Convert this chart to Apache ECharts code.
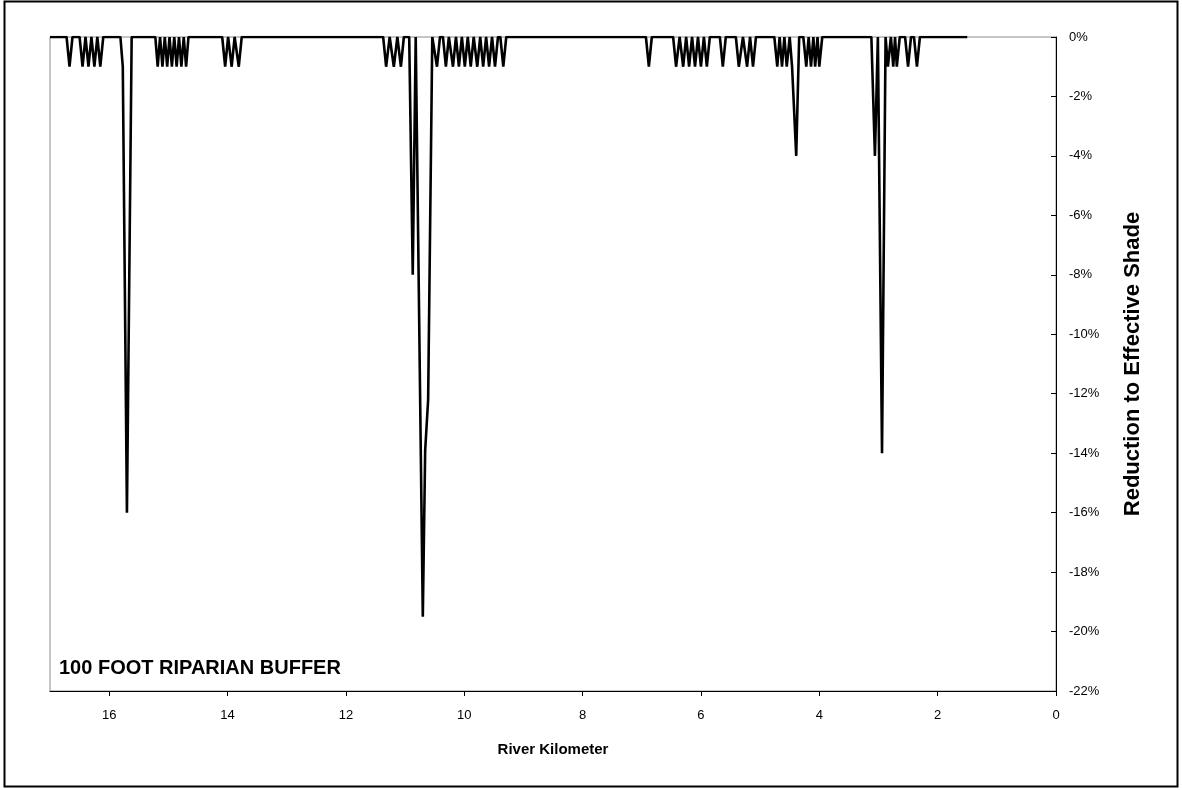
<!DOCTYPE html>
<html>
<head>
<meta charset="utf-8">
<script src="https://cdn.jsdelivr.net/npm/echarts@6/dist/echarts.min.js"></script>
<style>
  html, body { margin: 0; padding: 0; background: #ffffff; }
  #chart { width: 1182px; height: 790px; }
</style>
</head>
<body>
<div id="chart"></div>
<script>
// ---- Data ----
const chartTitle = '100 FOOT RIPARIAN BUFFER';
const xAxisName = 'River Kilometer';
const yAxisName = 'Reduction to Effective Shade';
const xTickValues = [0, 2, 4, 6, 8, 10, 12, 14, 16];
const yTickValues = [0, -2, -4, -6, -8, -10, -12, -14, -16, -18, -20, -22];

// River kilometer of each vertex of the line (upstream -> downstream)
const riverKm = [
  17.00,
  16.72, 16.67, 16.62,
  16.50, 16.45, 16.40, 16.35, 16.30, 16.25, 16.20, 16.15, 16.10,
  15.81, 15.77, 15.70, 15.62,
  15.22, 15.18, 15.14, 15.10, 15.06, 15.02, 14.98, 14.94, 14.90, 14.86, 14.82, 14.78, 14.74, 14.70, 14.66,
  14.09, 14.04, 13.99, 13.93, 13.88, 13.81, 13.76,
  11.37, 11.32, 11.26, 11.19, 11.13, 11.07, 11.02,
  10.93, 10.87, 10.82, 10.70, 10.66, 10.61, 10.54,
  10.51, 10.46, 10.41, 10.36, 10.31, 10.26, 10.24, 10.19, 10.14, 10.09, 10.04, 9.99, 9.94, 9.89, 9.84, 9.78, 9.73, 9.68, 9.63, 9.58, 9.53, 9.48, 9.43,
  9.39, 9.34, 9.29,
  6.93, 6.88, 6.83,
  6.47, 6.42, 6.36, 6.30, 6.25, 6.20, 6.15, 6.10, 6.05, 6.00, 5.95, 5.90, 5.85,
  5.68, 5.63, 5.58,
  5.41, 5.36, 5.29, 5.22, 5.17, 5.12, 5.07,
  4.76, 4.71, 4.67, 4.63, 4.59, 4.55, 4.50, 4.46, 4.39, 4.34,
  4.27, 4.22, 4.18, 4.14, 4.10, 4.07, 4.03, 4.00, 3.95,
  3.12, 3.06, 3.01, 2.94, 2.88,
  2.84, 2.79, 2.75, 2.72, 2.69, 2.64,
  2.55, 2.50, 2.45, 2.40, 2.35, 2.30,
  1.50
];
// Reduction to effective shade (%) at each vertex
const shadeReduction = [
  0,
  0, -1, 0,
  0, -1, 0, -1, 0, -1, 0, -1, 0,
  0, -1, -16, 0,
  0, -1, 0, -1, 0, -1, 0, -1, 0, -1, 0, -1, 0, -1, 0,
  0, -1, 0, -1, 0, -1, 0,
  0, -1, 0, -1, 0, -1, 0,
  0, -8, 0, -19.5, -13.9, -12.2, 0,
  0, -1, 0, 0, -1, 0, 0, -1, 0, -1, 0, -1, 0, -1, 0, -1, 0, -1, 0, -1, 0, -1, 0,
  0, -1, 0,
  0, -1, 0,
  0, -1, 0, -1, 0, -1, 0, -1, 0, -1, 0, -1, 0,
  0, -1, 0,
  0, -1, 0, -1, 0, -1, 0,
  0, -1, 0, -1, 0, -1, 0, -1, -4, 0,
  0, -1, 0, -1, 0, -1, 0, -1, 0,
  0, -4, 0, -14, 0,
  -1, 0, -1, 0, -1, 0,
  0, -1, 0, 0, -1, 0,
  0
];

const FONT = '"Liberation Sans", Arial, sans-serif';
const chart = echarts.init(document.getElementById('chart'), null, { renderer: 'canvas' });

const option = {
  animation: false,
  backgroundColor: '#ffffff',
  title: {
    text: chartTitle,
    left: 59,
    top: 658,
    padding: 0,
    textStyle: { color: '#000', fontFamily: FONT, fontSize: 20, fontWeight: 'bold' }
  },
  grid: {
    left: 50, top: 37, right: 126, bottom: 99,
    show: true, borderColor: '#8c8c8c', borderWidth: 1, backgroundColor: 'transparent'
  },
  xAxis: {
    type: 'value', inverse: true, min: 0, max: 17, interval: 2, position: 'bottom',
    name: xAxisName, nameLocation: 'middle', nameGap: 51,
    nameTextStyle: { color: '#000', fontFamily: FONT, fontSize: 15, fontWeight: 'bold' },
    axisLine: { show: true, onZero: false, lineStyle: { color: '#000', width: 1 } },
    axisTick: { show: true, inside: false, length: 5, customValues: xTickValues, lineStyle: { color: '#000' } },
    axisLabel: { color: '#000', fontFamily: FONT, fontSize: 13, margin: 18, customValues: xTickValues },
    splitLine: { show: false },
    z: 5
  },
  yAxis: {
    type: 'value', position: 'right', min: -22, max: 0, interval: 2,
    name: yAxisName, nameLocation: 'middle', nameRotate: 90, nameGap: 66,
    nameTextStyle: { color: '#000', fontFamily: FONT, fontSize: 22, fontWeight: 'bold' },
    axisLine: { show: true, onZero: false, lineStyle: { color: '#000', width: 1 } },
    axisTick: { show: true, inside: true, length: 5, customValues: yTickValues, lineStyle: { color: '#000' } },
    axisLabel: { color: '#000', fontFamily: FONT, fontSize: 13, margin: 13, customValues: yTickValues,
      formatter: v => v + '%' },
    splitLine: { show: false },
    z: 5
  },
  graphic: [{
    type: 'rect', silent: true,
    shape: { x: 4.5, y: 1.5, width: 1173, height: 785 },
    style: { fill: 'none', stroke: '#000', lineWidth: 2 }
  }],
  series: [{
    type: 'line',
    data: riverKm.map((k, i) => [k, shadeReduction[i]]),
    showSymbol: false,
    symbol: 'none',
    lineStyle: { color: '#000', width: 2.6 },
    z: 3
  }]
};
chart.setOption(option);
</script>
</body>
</html>
